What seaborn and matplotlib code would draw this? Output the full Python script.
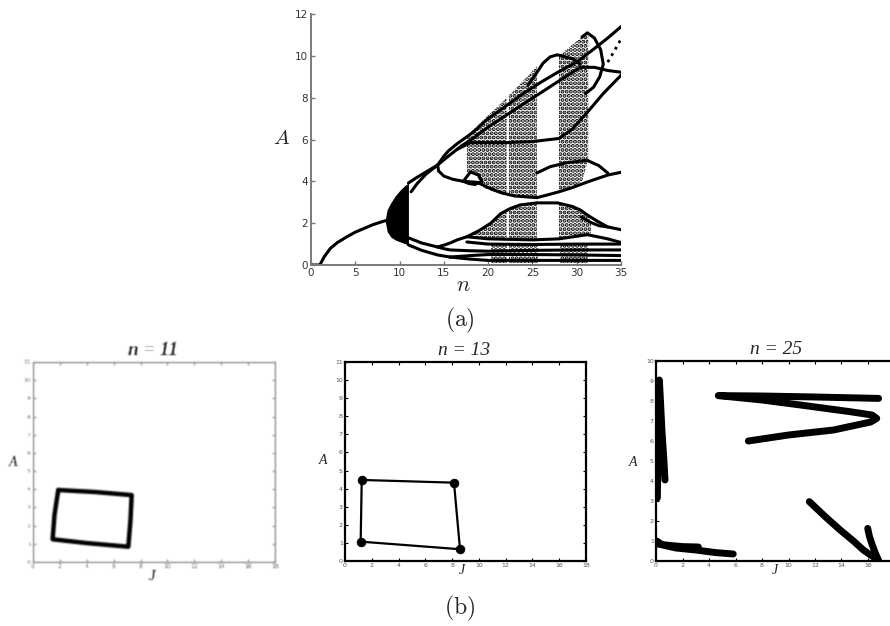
import numpy as np
import pandas as pd
import matplotlib
matplotlib.use("Agg")
import matplotlib.pyplot as plt
import seaborn as sns

# ---------------- bifurcation diagram: branches (n, A) ----------------
stem_n = [0, 1.0, 1.5, 2.2, 3.0, 4.1, 5.0, 6.0, 7.0, 8.4]
stem_A = [0, 0, 0.4, 0.8, 1.08, 1.36, 1.57, 1.75, 1.93, 2.12]

wedge_n = [8.4, 8.6, 9.0, 9.5, 10.1, 10.6, 11.0]
wedge_hi = [2.2, 2.65, 2.97, 3.3, 3.6, 3.8, 3.92]
wedge_lo = [2.05, 1.6, 1.34, 1.2, 1.1, 1.02, 0.96]

p2_up_a_n = [11.0, 12.0, 13.0, 14.3]
p2_up_a_A = [3.92, 4.2, 4.45, 4.78]
p2_up_b_n = [11.3, 12.0, 13.0, 14.3]
p2_up_b_A = [3.5, 3.9, 4.35, 4.78]
p2_lo_a_n = [11.0, 12.5, 14.3]
p2_lo_a_A = [1.3, 1.05, 0.86]
p2_lo_b_n = [11.0, 12.5, 14.3, 15.7]
p2_lo_b_A = [0.96, 0.7, 0.48, 0.38]

up1_n = [14.3, 15.0, 15.5, 16.5, 17.5, 18.3]
up1_A = [4.78, 5.2, 5.45, 5.8, 6.1, 6.35]
up2_n = [14.3, 15.5, 17.0, 18.3]
up2_A = [4.78, 5.2, 5.7, 6.05]
lo1_n = [14.3, 14.4, 15.0, 16.0, 17.2]
lo1_A = [4.78, 4.5, 4.25, 4.1, 4.0]
eye_n = [17.2, 18.0, 18.9, 19.3, 18.5, 17.8, 17.2]
eye_A = [4.0, 4.45, 4.3, 4.0, 3.85, 3.9, 4.0]
mid_n = [16.5, 18.0, 20.0, 22.0, 25.0, 28.0, 29.5, 31.2, 33.0, 35.3]
mid_A = [5.53, 5.85, 5.85, 5.85, 5.9, 6.05, 6.5, 7.3, 8.2, 9.2]

fan_top_n = [18.3, 20.0, 22.0, 24.0, 26.0, 28.0, 30.0, 32.0, 33.5, 35.3]
fan_top_A = [6.35, 7.0, 7.6, 8.2, 8.75, 9.25, 9.7, 10.35, 10.85, 11.5]
fan_sec_n = [18.3, 20.0, 22.0, 24.0, 26.0, 28.0, 30.4, 32.0, 33.5, 35.3]
fan_sec_A = [6.05, 6.6, 7.15, 7.7, 8.25, 8.8, 9.45, 9.45, 9.3, 9.2]
wiggle_n = [24.5, 25.5, 26.2, 27.0, 27.8, 28.7, 29.6, 30.4]
wiggle_A = [8.6, 9.2, 9.65, 9.95, 10.05, 9.95, 9.85, 9.6]
hook_n = [30.6, 31.2, 32.0, 32.7, 33.0, 32.6, 31.9, 31.0]
hook_A = [10.9, 11.1, 10.85, 10.3, 9.6, 9.0, 8.5, 8.2]
tail_n = [33.5, 34.2, 35.0]
tail_A = [9.7, 10.2, 10.8]

floor_n = [17.3, 18.8, 20.0, 21.5, 23.0, 25.5, 26.7, 28.0, 29.5, 31.2, 33.5, 35.2]
floor_A = [4.0, 3.95, 3.7, 3.45, 3.3, 3.22, 3.35, 3.5, 3.7, 3.97, 4.3, 4.45]
arc_n = [25.5, 27.0, 29.0, 31.2, 32.5, 33.5]
arc_A = [4.4, 4.7, 4.9, 5.0, 4.75, 4.4]

roof_n = [17.6, 19.0, 20.3, 21.4, 22.5, 23.6, 25.5, 27.8, 29.5, 30.4, 31.2, 32.3, 33.5, 35.2]
roof_A = [1.35, 1.65, 2.0, 2.45, 2.7, 2.87, 2.97, 2.97, 2.8, 2.63, 2.39, 2.1, 1.82, 1.67]
roof_loop_n = [30.5, 31.5, 32.5, 33.5]
roof_loop_A = [2.3, 2.05, 1.88, 1.82]
band13_n = [14.3, 15.0, 15.7, 16.5, 17.6, 20.0, 25.0, 28.0, 31.2, 33.5, 35.2]
band13_A = [0.86, 0.95, 1.05, 1.2, 1.35, 1.25, 1.2, 1.25, 1.45, 1.25, 1.05]
band10_n = [17.6, 20.0, 25.0, 30.0, 35.2]
band10_A = [1.1, 1.0, 0.98, 1.0, 1.0]
band07_n = [14.3, 15.0, 15.7, 18.0, 20.0, 25.0, 30.0, 35.2]
band07_A = [0.86, 0.78, 0.72, 0.68, 0.66, 0.7, 0.72, 0.72]
band04_n = [15.7, 18.0, 20.0, 25.0, 30.0, 35.2]
band04_A = [0.38, 0.45, 0.5, 0.5, 0.48, 0.45]
band02_n = [15.7, 18.0, 20.0, 25.0, 30.0, 35.2]
band02_A = [0.38, 0.28, 0.22, 0.22, 0.22, 0.22]

# chaotic bands: n, lower A, upper A
uc1a_n = [17.6, 18.5, 19.5, 20.5, 21.5, 22.1]
uc1a_lo = [4.45, 4.4, 3.7, 3.52, 3.4, 3.35]
uc1a_hi = [6.1, 6.55, 6.95, 7.35, 7.75, 8.0]
uc1b_n = [22.35, 23.5, 24.5, 25.5]
uc1b_lo = [3.33, 3.28, 3.25, 3.22]
uc1b_hi = [8.1, 8.6, 9.05, 9.5]
uc2_n = [28.0, 29.0, 30.0, 30.6, 31.2, 31.3]
uc2_lo = [3.55, 3.7, 3.85, 4.0, 4.9, 5.0]
uc2_hi = [10.0, 10.35, 10.7, 10.9, 11.1, 11.05]
lc1a_n = [17.6, 18.5, 19.5, 20.3, 21.4, 22.1]
lc1a_lo = [1.3, 1.28, 1.25, 1.2, 1.2, 1.2]
lc1a_hi = [1.4, 1.55, 1.8, 2.0, 2.45, 2.62]
lc1b_n = [22.35, 23.6, 24.5, 25.5]
lc1b_lo = [1.2, 1.2, 1.2, 1.2]
lc1b_hi = [2.72, 2.87, 2.93, 2.97]
lc2_n = [28.0, 29.0, 30.0, 30.8, 31.3, 31.6]
lc2_lo = [1.25, 1.28, 1.32, 1.38, 1.45, 1.55]
lc2_hi = [2.9, 2.88, 2.75, 2.55, 2.35, 2.0]
bc1a_n = [20.3, 22.1]
bc1a_lo = [0.08, 0.08]
bc1a_hi = [1.05, 1.05]
bc1b_n = [22.35, 25.6]
bc1b_lo = [0.08, 0.08]
bc1b_hi = [1.05, 1.05]
bc2_n = [28.1, 31.3]
bc2_lo = [0.08, 0.08]
bc2_hi = [1.05, 1.05]

n_ticks = [0, 5, 10, 15, 20, 25, 30, 35]
A_ticks = [0, 2, 4, 6, 8, 10, 12]

# ---------------- phase portraits (J, A) ----------------
j11 = [1.88, 4.6, 7.34, 7.25, 7.09, 4.0, 1.46, 1.6, 1.88]
a11 = [3.96, 3.85, 3.68, 2.3, 0.84, 1.04, 1.25, 2.6, 3.96]

j13 = [1.25, 8.14, 8.59, 1.17, 1.25]
a13 = [4.48, 4.33, 0.65, 1.07, 4.48]

j25_v = [16.8, 12.0, 8.0, 4.7, 8.0, 10.9, 14.6, 16.3, 16.66, 16.2, 13.4, 10.0, 6.97]
a25_v = [8.13, 8.2, 8.25, 8.27, 8.05, 7.8, 7.47, 7.3, 7.13, 6.95, 6.55, 6.3, 6.0]
j25_left = [0.1, 0.15, 0.2, 0.25, 0.3, 0.45, 0.6, 0.68]
a25_left = [3.15, 5.0, 7.0, 9.05, 8.5, 6.5, 5.0, 4.05]
j25_low = [0.05, 0.5, 1.5, 3.0, 4.5, 5.83]
a25_low = [1.0, 0.8, 0.65, 0.55, 0.42, 0.35]
j25_low2 = [0.1, 1.0, 2.0, 3.2]
a25_low2 = [0.85, 0.78, 0.72, 0.7]
j25_arc = [11.57, 12.8, 13.9, 14.9, 15.65, 16.3, 16.78]
a25_arc = [2.97, 2.2, 1.55, 1.0, 0.55, 0.25, 0.05]
j25_spur = [15.98, 16.1, 16.28, 16.55, 16.78]
a25_spur = [1.63, 1.25, 0.88, 0.4, 0.05]

J_ticks = [0, 2, 4, 6, 8, 10, 12, 14, 16, 18]
J_ticks_cut = [0, 2, 4, 6, 8, 10, 12, 14, 16]


def frame(pieces):
    rows = []
    for name, xs, ys in pieces:
        for i, (x, y) in enumerate(zip(xs, ys)):
            rows.append({"branch": name, "order": i, "x": x, "y": y})
    return pd.DataFrame(rows)


def soften(img, dpi):
    """Light 3-tap blur used as an agg filter (scanned-print look)."""
    pad = 2
    out = np.pad(img, ((pad, pad), (pad, pad), (0, 0)), mode="constant")
    kern = np.array([1, 2, 1], float) / 4.0
    for axis in (0, 1):
        acc = np.zeros_like(out)
        for w, s in zip(kern, range(-1, 2)):
            acc += w * np.roll(out, s, axis=axis)
        out = acc
    return out, -pad, -pad


sns.set_theme(style="white")
plt.rcParams["font.family"] = ["DejaVu Sans"]
plt.rcParams["mathtext.fontset"] = "cm"
plt.rcParams["hatch.linewidth"] = 2.0

W, H = 890, 626
fig = plt.figure(figsize=(W / 100, H / 100), dpi=100)


def fx(px):
    return px / W


def fy(py):
    return 1 - py / H


# ---------------- (a) bifurcation diagram ----------------
ax = fig.add_axes([fx(311), fy(265), (621 - 311) / W, (265 - 14) / H])

for n_, lo_, hi_ in [(uc1a_n, uc1a_lo, uc1a_hi), (uc1b_n, uc1b_lo, uc1b_hi),
                     (uc2_n, uc2_lo, uc2_hi), (lc1a_n, lc1a_lo, lc1a_hi),
                     (lc1b_n, lc1b_lo, lc1b_hi), (lc2_n, lc2_lo, lc2_hi),
                     (bc1a_n, bc1a_lo, bc1a_hi), (bc1b_n, bc1b_lo, bc1b_hi),
                     (bc2_n, bc2_lo, bc2_hi)]:
    ax.fill_between(n_, lo_, hi_, facecolor="none", edgecolor="black",
                    hatch="....", linewidth=0)

ax.fill_between(wedge_n, wedge_lo, wedge_hi, color="black", linewidth=0)

branches = frame([
    ("stem", stem_n, stem_A), ("p2ua", p2_up_a_n, p2_up_a_A),
    ("p2ub", p2_up_b_n, p2_up_b_A), ("p2la", p2_lo_a_n, p2_lo_a_A),
    ("p2lb", p2_lo_b_n, p2_lo_b_A), ("up1", up1_n, up1_A), ("up2", up2_n, up2_A),
    ("lo1", lo1_n, lo1_A), ("eye", eye_n, eye_A), ("mid", mid_n, mid_A),
    ("fan_top", fan_top_n, fan_top_A), ("fan_sec", fan_sec_n, fan_sec_A),
    ("wiggle", wiggle_n, wiggle_A), ("hook", hook_n, hook_A),
    ("floor", floor_n, floor_A), ("arc", arc_n, arc_A), ("roof", roof_n, roof_A),
    ("roof_loop", roof_loop_n, roof_loop_A), ("b13", band13_n, band13_A),
    ("b10", band10_n, band10_A), ("b07", band07_n, band07_A),
    ("b04", band04_n, band04_A), ("b02", band02_n, band02_A),
])
sns.lineplot(data=branches, x="x", y="y", units="branch", estimator=None,
             sort=False, color="black", linewidth=2.2, ax=ax, legend=False,
             solid_capstyle="round", solid_joinstyle="round")
sns.lineplot(x=tail_n, y=tail_A, sort=False, estimator=None, color="black",
             linewidth=2.0, linestyle=":", ax=ax)

ax.set_xlim(0, 35)
ax.set_ylim(0, 12)
ax.set_xticks(n_ticks)
ax.set_yticks(A_ticks)
ax.set_xlabel("")
ax.set_ylabel("")
for s in ["top", "right"]:
    ax.spines[s].set_visible(False)
for s in ["left", "bottom"]:
    ax.spines[s].set_color("#7a7a7a")
    ax.spines[s].set_linewidth(1.4)
ax.tick_params(direction="in", length=3, width=1, colors="#7a7a7a",
               labelcolor="#333333", labelsize=7.5, pad=2, bottom=True, left=True)
fig.text(fx(282), fy(138), r"$A$", fontsize=15, ha="center", va="center")
fig.text(fx(463), fy(285), r"$n$", fontsize=16, ha="center", va="center")
fig.text(fx(460), fy(320), r"$\mathrm{(a)}$", fontsize=17, ha="center", va="center")
fig.text(fx(460), fy(608), r"$\mathrm{(b)}$", fontsize=17, ha="center", va="center")


def style_panel(a, ylim, xticks, yticks, edge, lw, xmax=18):
    a.set_xlim(0, xmax)
    a.set_ylim(0, ylim)
    a.set_xticks(xticks)
    a.set_yticks(yticks)
    a.set_xlabel("")
    a.set_ylabel("")
    for s in a.spines.values():
        s.set_visible(True)
        s.set_color(edge)
        s.set_linewidth(lw)
    a.tick_params(direction="in", length=2.5, width=0.8, colors=edge,
                  labelcolor="#555555", labelsize=4.5, pad=1.5,
                  bottom=True, left=True, top=True, right=True)


serif = ["Liberation Serif", "DejaVu Serif"]

# ---------------- n = 11 ----------------
ax1 = fig.add_axes([fx(33), fy(562), 242 / W, 200 / H])
sns.lineplot(x=j11, y=a11, sort=False, estimator=None, color="black",
             linewidth=3.2, ax=ax1, solid_joinstyle="round", solid_capstyle="round")
style_panel(ax1, 11, J_ticks, list(range(0, 12)), "#8a8a8a", 1.0)
ax1.set_agg_filter(soften)
t11 = [
    fig.text(fx(153), fy(350), "n = 11", family=serif, style="italic",
             weight="bold", fontsize=14, ha="center", va="center", color="#222222"),
    fig.text(fx(13), fy(462), "A", family=serif, style="italic", weight="bold",
             fontsize=10, ha="center", va="center", color="#333333"),
    fig.text(fx(152), fy(577), "J", family=serif, style="italic", weight="bold",
             fontsize=10, ha="center", va="center", color="#333333"),
]
for t in t11:
    t.set_agg_filter(soften)

# ---------------- n = 13 ----------------
ax2 = fig.add_axes([fx(345), fy(561), 241 / W, 199 / H])
sns.lineplot(x=j13, y=a13, sort=False, estimator=None, color="black",
             linewidth=1.6, ax=ax2)
sns.scatterplot(x=j13[:-1], y=a13[:-1], color="black", s=40, ax=ax2,
                edgecolor="black", zorder=3)
style_panel(ax2, 11, J_ticks, list(range(0, 12)), "black", 1.6)
fig.text(fx(464), fy(350), "n = 13", family=serif, style="italic",
         fontsize=14, ha="center", va="center")
fig.text(fx(323), fy(460), "A", family=serif, style="italic",
         fontsize=10, ha="center", va="center")
fig.text(fx(462), fy(570), "J", family=serif, style="italic",
         fontsize=10, ha="center", va="center")

# ---------------- n = 25 ----------------
ax3 = fig.add_axes([fx(656), fy(561), 238.5 / W, 200 / H])
strokes = frame([
    ("v", j25_v, a25_v), ("left", j25_left, a25_left), ("low", j25_low, a25_low),
    ("low2", j25_low2, a25_low2), ("arc", j25_arc, a25_arc),
    ("spur", j25_spur, a25_spur),
])
sns.lineplot(data=strokes, x="x", y="y", units="branch", estimator=None,
             sort=False, color="black", linewidth=5.0, ax=ax3, legend=False,
             solid_capstyle="round", solid_joinstyle="round")
style_panel(ax3, 10, J_ticks_cut, list(range(0, 11)), "black", 1.6)
fig.text(fx(776), fy(349), "n = 25", family=serif, style="italic",
         fontsize=14, ha="center", va="center")
fig.text(fx(633), fy(462), "A", family=serif, style="italic",
         fontsize=10, ha="center", va="center")
fig.text(fx(775), fy(570), "J", family=serif, style="italic",
         fontsize=10, ha="center", va="center")

fig.savefig("out.png", dpi=100, facecolor="white")
